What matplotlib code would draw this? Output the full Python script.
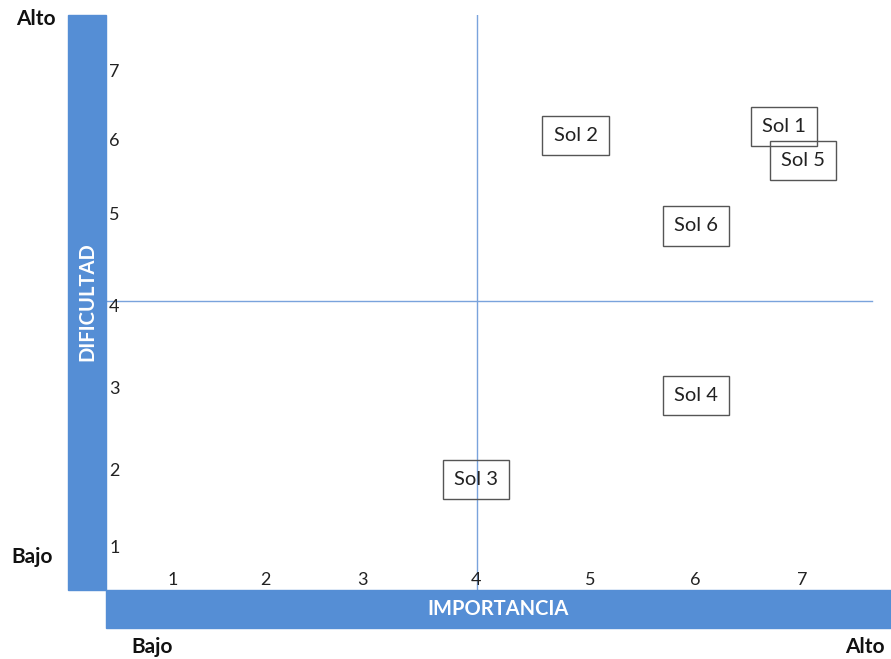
import matplotlib
matplotlib.use("Agg")
import matplotlib.pyplot as plt
from matplotlib.patches import Rectangle

plt.rcParams['font.family'] = ['Lato', 'DejaVu Sans']

# solutions: importancia (x) and dificultad (y)
sol_names = ['Sol 1', 'Sol 2', 'Sol 3', 'Sol 4', 'Sol 5', 'Sol 6']
importancia = [6.83, 4.84, 3.89, 5.99, 7.01, 5.99]
dificultad = [6.31, 6.20, 1.86, 2.92, 5.89, 5.06]

# tick labels and where they sit (the scale of the original is hand drawn)
tick_labels = ['1', '2', '3', '4', '5', '6', '7']
x_tick_pos = [1.0, 1.88, 2.81, 3.89, 4.98, 5.98, 7.0]
y_tick_pos = [1.0, 1.97, 3.0, 4.04, 5.20, 6.13, 7.0]
x_mid = 3.90
y_mid = 4.11

blue = '#558ed5'
W, H = 891, 659
fig = plt.figure(figsize=(W / 100, H / 100), dpi=100)
ax = fig.add_axes([106 / W, 1 - 590 / H, 785 / W, 575 / H])
ax.set_xlim(0.36, 7.85)
ax.set_ylim(0.47, 7.72)
ax.axis('off')

# quadrant lines
ax.axvline(x_mid, color='#7aa3dc', lw=1.0)
ax.axhline(y_mid, xmax=0.976, color='#7aa3dc', lw=1.0)

# tick numbers inside the plot
for lab, xp in zip(tick_labels, x_tick_pos):
    ax.text(xp, 0.6, lab, ha='center', va='center', fontsize=13, color='#222222')
for lab, yp in zip(tick_labels, y_tick_pos):
    ax.text(0.39, yp, lab, ha='left', va='center', fontsize=13, color='#222222')

# solution boxes (transparent, the lines show through)
for name, x, y in zip(sol_names, importancia, dificultad):
    ax.text(x, y, name, ha='center', va='center', fontsize=14.5, color='#222222',
            bbox=dict(boxstyle='square,pad=0.55', fc='none', ec='#555555', lw=1.0))

# blue axis bars
fig.patches.append(Rectangle((68 / W, 1 - 590 / H), 38 / W, 575 / H,
                             transform=fig.transFigure, color=blue, zorder=0))
fig.patches.append(Rectangle((106 / W, 1 - 628 / H), 785 / W, 38 / H,
                             transform=fig.transFigure, color=blue, zorder=0))
fig.text(87 / W, 1 - 302 / H, 'DIFICULTAD', rotation=90, ha='center', va='center',
         color='white', fontsize=14.5, fontweight='bold')
fig.text(498 / W, 1 - 609 / H, 'IMPORTANCIA', ha='center', va='center',
         color='white', fontsize=14.5, fontweight='bold')

# Alto / Bajo labels
lab_kw = dict(ha='center', va='center', fontsize=15, fontweight='bold', color='#111111')
fig.text(36 / W, 1 - 19 / H, 'Alto', **lab_kw)
fig.text(32 / W, 1 - 557 / H, 'Bajo', **lab_kw)
fig.text(152 / W, 1 - 647 / H, 'Bajo', **lab_kw)
fig.text(865 / W, 1 - 647 / H, 'Alto', **lab_kw)

fig.savefig('out.png', dpi=100)
